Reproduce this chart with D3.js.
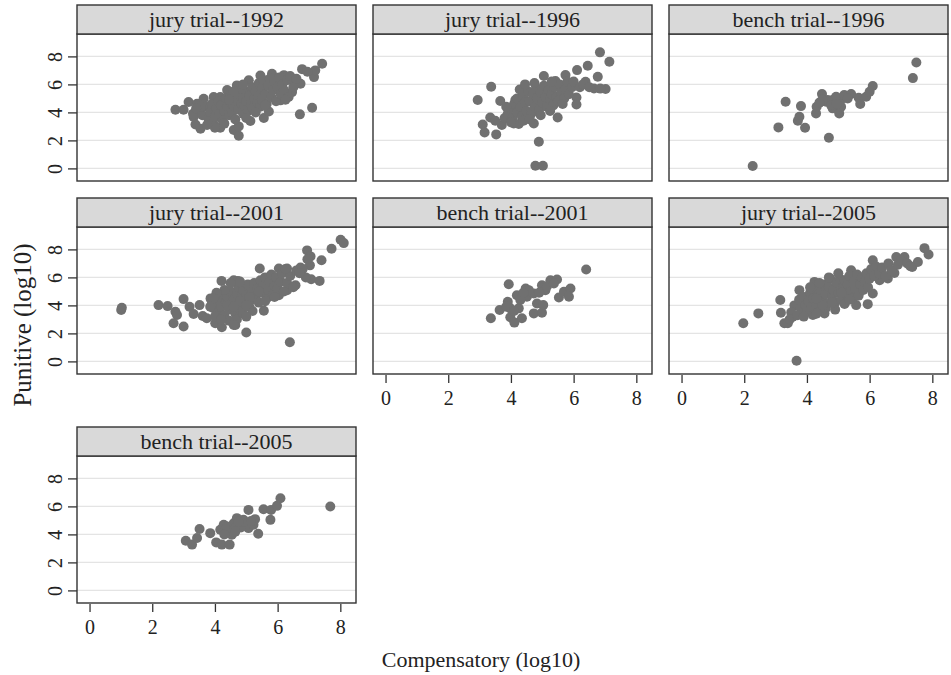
<!DOCTYPE html>
<html><head><meta charset="utf-8">
<script src="https://cdn.jsdelivr.net/npm/d3@7"></script>
<style>body{margin:0;background:#fff}svg{display:block}text{font-family:"Liberation Serif","Times New Roman",serif;fill:#222}</style>
</head><body><svg id="c" width="951" height="675"></svg>
<script>
const panelTitles = ["jury trial--1992","jury trial--1996","bench trial--1996","jury trial--2001","bench trial--2001","jury trial--2005","bench trial--2005"];
const xTicks = [0,2,4,6,8];
const yTicks = [0,2,4,6,8];
const xLabel = "Compensatory (log10)";
const yLabel = "Punitive (log10)";

const jury1992 = [[2.74,4.19],[3.0,4.19],[3.16,4.74],[3.32,3.67],[3.38,3.14],[3.54,2.83],[4.17,2.9],[4.6,2.74],[4.76,2.33],[4.7,5.93],[4.76,3.0],[5.13,3.38],[5.56,3.6],[5.72,4.07],[6.09,4.86],[6.46,5.45],[6.71,3.86],[7.1,4.33],[7.16,6.52],[7.2,7.0],[7.42,7.48],[6.78,7.09],[6.95,6.9],[6.2,6.66],[5.82,6.76],[5.45,6.64],[5.08,6.29],[6.52,6.17],[6.73,6.05],[4.39,5.6],[4.17,5.1],[3.96,5.1],[3.64,4.98],[3.43,4.62],
[3.5,4.1],[3.6,3.8],[3.7,4.4],[3.8,3.5],[3.85,4.0],[3.9,4.6],[3.95,3.2],[4.0,3.7],[4.05,4.3],[4.1,4.8],[4.15,3.9],[4.2,4.5],[4.25,3.4],[4.3,4.1],[4.35,5.0],[4.4,4.4],[4.45,3.8],[4.5,4.7],[4.5,5.2],[4.55,4.0],[4.6,4.5],[4.65,3.5],[4.7,4.9],[4.75,4.2],[4.8,5.3],[4.85,4.6],[4.9,3.9],[4.9,5.0],[4.95,4.4],[5.0,5.5],[5.0,4.8],[5.05,4.1],[5.1,5.2],[5.15,4.6],[5.2,5.8],[5.2,4.3],[5.25,5.0],[5.3,5.5],[5.35,4.7],[5.4,6.1],[5.4,5.2],[5.45,4.4],[5.5,5.7],[5.5,4.9],[5.55,6.3],[5.6,5.3],[5.65,4.6],[5.7,5.9],[5.75,6.4],[5.8,5.1],[5.85,5.6],[5.9,6.2],[5.95,4.8],[6.0,5.8],[6.05,6.5],[6.1,5.3],[6.15,6.0],[6.2,5.6],[6.3,6.3],[6.35,5.1],[6.4,6.6],[6.5,5.8],[6.6,6.4],[6.25,4.9],[5.3,4.0],[5.6,4.5],[4.3,3.2],[4.0,2.9],[3.75,3.1],[3.3,3.9],[4.85,5.7],[4.6,5.5],[5.0,3.6],[4.45,4.9],[3.55,4.4],[3.4,4.3],[4.9,6.0]];

const jury1996 = [[2.94,4.88],[3.37,5.83],[3.66,4.81],[3.34,3.64],[3.1,3.14],[3.16,2.57],[3.53,2.43],[3.71,3.1],[4.09,3.21],[4.25,3.17],[4.73,3.21],[4.89,1.9],[4.78,0.19],[5.02,0.19],[5.49,3.64],[5.05,6.6],[5.42,6.24],[5.74,6.67],[6.11,7.02],[6.45,7.33],[6.84,8.29],[7.14,7.62],[6.77,6.55],[7.02,5.67],[6.65,5.71],[6.38,6.19],[6.09,5.07],[6.09,4.57],[4.28,5.64],[4.14,4.88],
[3.5,3.4],[3.8,3.6],[3.9,3.9],[4.0,4.3],[4.05,3.6],[4.1,4.6],[4.2,4.0],[4.2,5.0],[4.3,4.4],[4.35,3.7],[4.4,5.2],[4.45,4.7],[4.5,4.1],[4.55,5.5],[4.6,4.8],[4.65,3.9],[4.7,5.3],[4.75,4.4],[4.8,5.7],[4.85,5.0],[4.9,4.2],[4.95,5.4],[5.0,4.7],[5.05,5.9],[5.1,5.1],[5.15,4.4],[5.2,5.6],[5.25,4.9],[5.3,5.3],[5.35,4.5],[5.4,5.8],[5.45,5.1],[5.5,4.8],[5.55,6.0],[5.6,5.4],[5.7,5.0],[5.75,5.7],[5.8,6.2],[5.85,5.3],[5.95,5.8],[6.0,6.2],[6.2,5.8],[6.3,6.0],[6.5,5.8],[6.85,5.7],[4.4,3.4],[4.6,3.5],[4.95,3.8],[5.25,4.1],[4.0,3.3],[3.85,4.4],[4.45,6.0],[5.3,6.2],[4.75,6.1],[5.65,4.6]];

const bench1996 = [[2.27,0.17],[3.09,2.93],[3.32,4.76],[3.71,3.4],[3.81,4.45],[3.94,2.9],[3.76,3.69],[4.29,3.93],[4.31,4.4],[4.48,5.31],[4.7,2.19],[4.61,4.76],[4.82,4.88],[4.82,4.29],[5.03,3.93],[5.09,4.4],[5.14,5.0],[4.93,5.12],[5.19,5.24],[5.41,5.31],[5.65,5.05],[5.7,4.6],[5.89,5.12],[6.0,5.48],[6.1,5.88],[7.38,6.45],[7.49,7.57],[4.66,4.88],[4.77,4.52],[4.5,4.9],[4.4,4.7],[4.95,4.6],[5.3,5.0]];

const jury2001 = [[1.01,3.67],[1.03,3.83],[2.2,4.02],[2.49,3.95],[2.74,3.55],[2.79,3.31],[2.68,2.72],[3.0,4.45],[3.0,2.49],[3.19,3.9],[3.32,3.38],[3.51,4.02],[3.61,3.24],[3.74,3.08],[4.01,2.72],[4.22,2.44],[4.21,5.75],[4.65,2.6],[5.0,2.06],[5.56,3.62],[6.39,1.37],[5.43,6.63],[6.04,6.63],[6.3,6.63],[6.73,6.7],[6.94,7.93],[7.05,7.5],[7.03,6.86],[7.4,7.22],[7.07,5.87],[7.34,5.75],[7.72,8.05],[8.01,8.69],[8.11,8.45],[6.57,5.44],[6.04,4.73],[6.3,5.09],[4.6,5.8],[4.73,5.75],[3.86,4.5],
[3.9,4.3],[3.95,3.8],[4.0,4.6],[4.05,4.1],[4.1,3.5],[4.15,4.4],[4.2,3.9],[4.25,4.8],[4.3,3.3],[4.35,4.2],[4.4,4.6],[4.45,3.7],[4.5,5.0],[4.55,4.0],[4.6,4.4],[4.65,3.4],[4.7,4.8],[4.75,5.3],[4.8,3.8],[4.85,4.5],[4.9,5.1],[4.95,4.1],[5.0,4.7],[5.05,5.5],[5.1,3.9],[5.15,4.4],[5.2,5.0],[5.25,5.6],[5.3,4.6],[5.35,5.2],[5.4,4.2],[5.45,5.8],[5.5,4.9],[5.55,5.4],[5.6,6.0],[5.65,4.5],[5.7,5.1],[5.75,5.7],[5.8,6.2],[5.85,4.8],[5.9,5.4],[5.95,6.0],[6.0,5.2],[6.1,5.7],[6.15,6.3],[6.2,5.0],[6.3,5.6],[6.4,6.1],[6.5,5.3],[6.6,6.5],[6.8,6.6],[6.9,6.0],[4.45,2.9],[4.7,3.0],[4.6,2.6],[4.0,3.2],[4.9,3.4],[5.2,3.6],[4.3,5.1],[4.05,4.9],[3.95,4.5],[4.5,5.6],[4.8,5.7],[5.0,3.2],[4.2,3.0],[3.85,3.9],[5.6,4.3],[5.9,4.6],[6.25,6.6],[6.7,6.3],[6.95,7.3],[4.4,4.0],[4.8,4.3],[5.1,4.6],[5.4,5.0],[4.6,3.9],[5.0,4.0]];

const bench2001 = [[3.36,3.08],[3.64,3.67],[3.93,5.51],[3.9,4.26],[3.98,3.15],[4.11,2.77],[4.35,3.08],[4.19,4.73],[4.25,3.79],[4.47,5.21],[4.51,4.62],[4.73,3.43],[4.83,4.14],[4.99,3.48],[5.03,4.02],[4.73,4.85],[4.99,5.44],[5.1,5.09],[5.26,5.8],[5.47,5.85],[5.53,4.57],[5.69,4.97],[5.9,5.21],[5.85,4.62],[6.4,6.56],[3.98,3.79],[4.3,4.38],[4.57,5.09],[5.15,5.37],[5.37,5.56],[3.85,3.9],[4.1,3.6],[4.4,4.9],[4.9,4.9]];

const jury2005 = [[1.97,2.72],[2.45,3.43],[3.15,4.38],[3.17,3.48],[3.28,2.72],[3.39,2.72],[3.67,0.05],[3.55,3.2],[3.76,5.09],[4.24,5.68],[4.56,3.43],[4.19,3.31],[5.57,4.02],[5.94,4.09],[6.1,4.85],[5.41,6.51],[6.1,7.22],[6.32,5.8],[6.58,5.92],[6.79,6.32],[6.85,7.46],[7.11,7.46],[7.36,6.75],[7.54,7.1],[7.75,8.09],[7.88,7.64],[6.32,6.51],
[3.6,4.0],[3.75,4.4],[3.8,3.8],[3.9,4.6],[3.95,4.0],[4.0,3.6],[4.05,4.3],[4.1,4.9],[4.15,3.9],[4.2,4.5],[4.25,5.2],[4.3,4.0],[4.35,4.7],[4.4,3.6],[4.45,5.0],[4.5,4.3],[4.55,5.5],[4.6,4.8],[4.65,4.1],[4.7,5.3],[4.75,5.9],[4.8,4.6],[4.85,5.1],[4.9,4.2],[4.95,5.6],[5.0,4.9],[5.05,5.9],[5.1,4.4],[5.15,5.3],[5.2,5.8],[5.25,4.8],[5.3,5.5],[5.35,6.1],[5.4,5.0],[5.45,4.5],[5.5,5.7],[5.55,5.2],[5.6,6.2],[5.65,4.7],[5.7,5.5],[5.75,6.0],[5.8,5.1],[5.85,5.7],[5.9,6.3],[5.95,5.3],[6.0,5.9],[6.05,6.6],[6.15,6.1],[6.2,6.8],[6.3,6.3],[6.4,6.7],[6.5,6.1],[6.6,7.0],[6.7,6.5],[6.9,6.9],[7.0,7.2],[7.2,7.0],[7.3,6.8],[4.1,5.3],[4.4,5.6],[4.6,3.8],[4.9,3.7],[5.2,4.1],[3.5,3.5],[3.45,3.0],[3.7,3.3],[3.9,3.2],[4.3,3.4],[5.0,6.3],[4.7,6.0],[4.5,4.0],[4.8,4.2],[5.1,4.9],[5.35,4.4],[4.3,4.5]];

const bench2005 = [[3.07,3.55],[3.27,3.27],[3.43,3.74],[3.51,4.38],[3.85,4.09],[4.04,3.43],[4.22,3.27],[4.47,3.27],[4.17,4.33],[4.28,4.69],[4.49,4.33],[4.54,3.98],[4.6,4.8],[4.7,5.16],[4.81,4.57],[4.91,5.04],[5.07,4.45],[5.07,5.75],[5.23,4.69],[5.28,5.09],[5.38,4.05],[5.55,5.8],[5.77,5.04],[5.79,5.75],[5.98,6.04],[6.09,6.58],[7.68,5.99],[4.38,4.57],[4.62,4.4],[4.83,4.5],[4.3,4.0],[4.65,4.2],[4.9,4.9],[5.15,4.95],[4.75,4.9]];

const panelPoints = [jury1992, jury1996, bench1996, jury2001, bench2001, jury2005, bench2005];

// layout
const colLeft = [77, 373, 669];
const rowTop = [5, 198, 427];
const pw = 279, stripH = 29, ph = 147;
const showX = [false, false, false, false, true, true, true];

const svg = d3.select("#c");

panelTitles.forEach((title, i) => {
  const col = i % 3, row = Math.floor(i / 3);
  const x0 = colLeft[col], sy = rowTop[row], py0 = sy + stripH;
  const x = d3.scaleLinear().domain([-0.4, 8.5]).range([x0, x0 + pw]);
  const y = d3.scaleLinear().domain([-0.9, 9.6]).range([py0 + ph, py0]);
  const g = svg.append("g");

  g.selectAll("line.grid").data(yTicks).join("line")
    .attr("x1", x0).attr("x2", x0 + pw)
    .attr("y1", d => y(d)).attr("y2", d => y(d))
    .attr("stroke", "#e4e4e4").attr("stroke-width", 1.3);

  g.selectAll("circle").data(panelPoints[i]).join("circle")
    .attr("cx", d => x(d[0])).attr("cy", d => y(d[1]))
    .attr("r", 5).attr("fill", "#707070");

  g.append("rect").attr("x", x0).attr("y", py0).attr("width", pw).attr("height", ph)
    .attr("fill", "none").attr("stroke", "#333").attr("stroke-width", 1.4);

  g.append("rect").attr("x", x0).attr("y", sy).attr("width", pw).attr("height", stripH)
    .attr("fill", "#d9d9d9").attr("stroke", "#333").attr("stroke-width", 1.4);
  g.append("text").attr("x", x0 + pw / 2).attr("y", sy + 22)
    .attr("text-anchor", "middle").attr("font-size", 22).text(title);

  if (col === 0) {
    const ax = d3.axisLeft(y).tickValues(yTicks).tickSize(9).tickPadding(0).tickFormat(d3.format("d"));
    const ag = g.append("g").attr("transform", `translate(${x0},0)`).call(ax);
    ag.select(".domain").remove();
    ag.selectAll(".tick line").attr("stroke", "#333").attr("stroke-width", 1.3);
    ag.selectAll(".tick text").attr("font-size", 20).attr("fill", "#222")
      .attr("font-family", "Liberation Serif")
      .attr("x", null).attr("dy", null).attr("text-anchor", "middle")
      .attr("transform", `translate(-15,0) rotate(-90)`);
  }
  if (showX[i]) {
    const ax = d3.axisBottom(x).tickValues(xTicks).tickSize(8).tickPadding(0).tickFormat(d3.format("d"));
    const ag = g.append("g").attr("transform", `translate(0,${py0 + ph + 1})`).call(ax);
    ag.select(".domain").remove();
    ag.selectAll(".tick line").attr("stroke", "#333").attr("stroke-width", 1.3);
    ag.selectAll(".tick text").attr("font-size", 20).attr("fill", "#222")
      .attr("font-family", "Liberation Serif")
      .attr("y", 30).attr("dy", null);
  }
});

svg.append("text").attr("x", 481).attr("y", 667).attr("text-anchor", "middle")
  .attr("font-size", 22).text(xLabel);
svg.append("text").attr("transform", "translate(31,325) rotate(-90)").attr("text-anchor", "middle")
  .attr("font-size", 25).text(yLabel);
</script>
</body></html>
